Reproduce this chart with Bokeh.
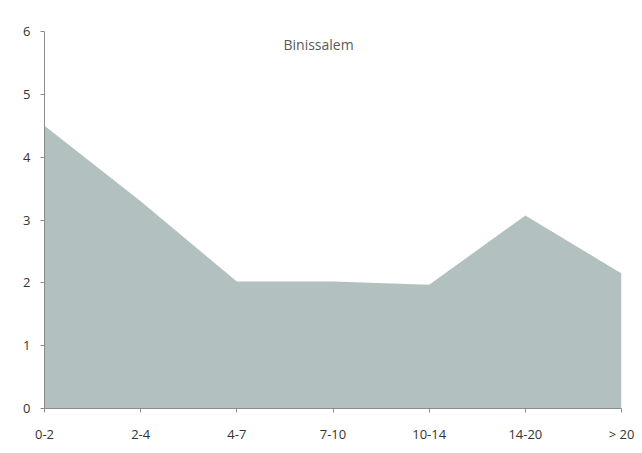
from bokeh.plotting import figure
from bokeh.models import FixedTicker, Range1d, Label
from bokeh.embed import file_html
from bokeh.resources import INLINE

categories = ["0-2", "2-4", "4-7", "7-10", "10-14", "14-20", "> 20"]
values = [4.5, 3.3, 2.02, 2.02, 1.97, 3.07, 2.15]
y_ticks = [0, 1, 2, 3, 4, 5, 6]
title_text = "Binissalem"

xs = list(range(len(categories)))

p = figure(width=634, height=445, output_backend="svg", toolbar_location=None,
           x_range=Range1d(0, len(categories) - 1), y_range=Range1d(0, 6),
           min_border_left=44, min_border_right=13, min_border_top=31, min_border_bottom=37)
p.varea(x=xs, y1=[0] * len(xs), y2=values, fill_color="#b2c1bf")

p.xgrid.visible = False
p.ygrid.visible = False
p.outline_line_color = None
p.background_fill_color = "white"
p.border_fill_color = "white"

p.xaxis.ticker = FixedTicker(ticks=xs)
p.xaxis.major_label_overrides = {i: c for i, c in enumerate(categories)}
p.yaxis.ticker = FixedTicker(ticks=y_ticks)

for ax in (p.xaxis, p.yaxis):
    ax.axis_line_color = "#8c8c8c"
    ax.major_tick_line_color = "#8c8c8c"
    ax.minor_tick_line_color = None
    ax.major_tick_in = 0
    ax.major_tick_out = 4
    ax.major_label_text_font = "Open Sans"
    ax.major_label_text_font_size = "13px"
    ax.major_label_text_color = "#333333"
p.yaxis.major_label_standoff = 10
p.xaxis.major_label_standoff = 12

p.add_layout(Label(x=2.85, y=5.8, text=title_text, text_align="center",
                   text_baseline="middle", text_font="Open Sans",
                   text_font_size="14px", text_color="#595959"))

open("out.html", "w").write(file_html(p, INLINE))
